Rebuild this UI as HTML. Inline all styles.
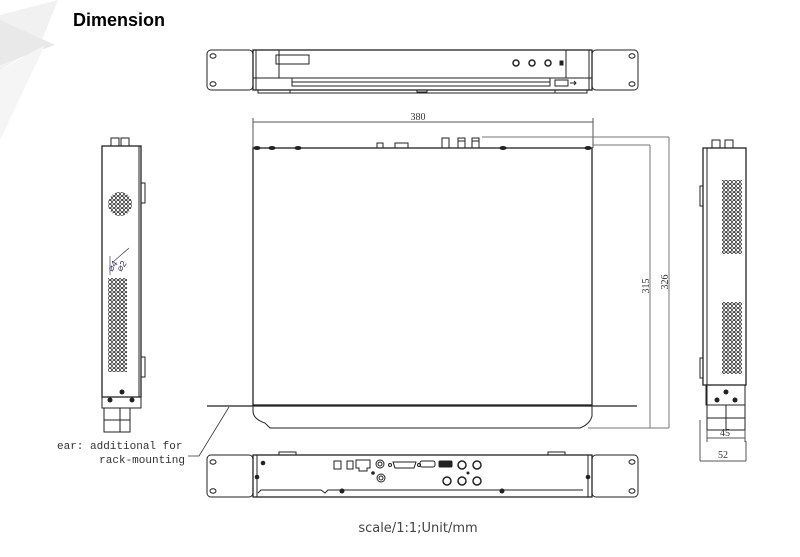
<!DOCTYPE html>
<html><head><meta charset="utf-8"><style>
html,body{margin:0;padding:0;background:#fff;}
svg{display:block;}
</style></head><body>
<svg width="800" height="557" viewBox="0 0 800 557" xmlns="http://www.w3.org/2000/svg">
<defs>
<pattern id="vent" x="0" y="0" width="4" height="4" patternUnits="userSpaceOnUse">
<circle cx="2" cy="2" r="1.6" fill="none" stroke="#222" stroke-width="0.7"/>
</pattern>
</defs>
<!-- logo -->
<polygon points="0,15 58,0 40,45 0,70" fill="#f1f1f1"/>
<polygon points="0,20 55,45 0,65" fill="#e9e9e9"/>
<polygon points="0,70 45,45 0,140" fill="#f5f5f5"/>
<text x="73" y="26" font-family="Liberation Sans, sans-serif" font-weight="bold" font-size="18" fill="#000">Dimension</text>

<g fill="none" stroke="#222" stroke-width="1">
<!-- FRONT VIEW -->
<rect x="207" y="50" width="46" height="40" rx="4"/>
<rect x="592" y="50" width="46" height="40" rx="4"/>
<ellipse cx="213" cy="56" rx="3" ry="2.2"/><ellipse cx="213" cy="84" rx="3" ry="2.2"/>
<ellipse cx="632" cy="56" rx="3" ry="2.2"/><ellipse cx="632" cy="84" rx="3" ry="2.2"/>
<rect x="253" y="50" width="339" height="40" stroke-width="1.3"/>
<line x1="256" y1="50" x2="256" y2="90"/><line x1="589" y1="50" x2="589" y2="90"/>
<line x1="279" y1="50" x2="279" y2="78"/><line x1="566" y1="50" x2="566" y2="78"/>
<line x1="253" y1="78" x2="592" y2="78"/>
<rect x="276" y="55" width="33" height="9"/>
<circle cx="516" cy="63" r="3" stroke-width="1.5"/><circle cx="532" cy="63" r="3" stroke-width="1.5"/><circle cx="548" cy="63" r="3" stroke-width="1.5"/>
<rect x="560" y="61" width="3" height="4" fill="#222"/>
<rect x="292" y="78" width="258" height="8"/><line x1="292" y1="82" x2="550" y2="82"/>
<rect x="555" y="80" width="13" height="6"/>
<path d="M570 83 h6 M574 81 l2 2 l-2 2"/>
<path d="M258 90 v3 h32 v-3 M555 90 v3 h32 v-3 M417 90 v2 h10 v-2 M265 93 h315"/>

<!-- TOP VIEW -->
<line x1="253" y1="122" x2="593" y2="122" stroke="#555"/>
<line x1="253" y1="118" x2="253" y2="148" stroke="#555"/>
<line x1="593" y1="118" x2="593" y2="148" stroke="#555"/>
<line x1="482" y1="137" x2="669" y2="137" stroke="#777"/>
<line x1="593" y1="145" x2="650" y2="145" stroke="#777"/>
<line x1="650" y1="145" x2="650" y2="428" stroke="#777"/>
<line x1="669" y1="137" x2="669" y2="428" stroke="#777"/>
<line x1="588" y1="428" x2="669" y2="428" stroke="#777"/>
<rect x="253" y="148" width="339" height="257" stroke-width="1.3"/>
<line x1="207" y1="406" x2="637" y2="406" stroke-width="1.3"/>
<path d="M253 406 v5 q0 8 12 12 l5 5 h310 q10 -4 12 -12 v-10"/>
<path d="M377 148 v-5 h6 v5 M395 148 v-5 h13 v5 M442 148 v-10 h7 v10 M458 148 v-10 h7 v10 M458 141 h7 M472 148 v-10 h7 v10 M472 141 h7"/>
<g fill="#222"><ellipse cx="257" cy="148" rx="3" ry="1.5"/><ellipse cx="272" cy="148" rx="3" ry="1.5"/><ellipse cx="298" cy="148" rx="3" ry="1.5"/><ellipse cx="503" cy="148" rx="3" ry="1.5"/><ellipse cx="588" cy="148" rx="3" ry="1.5"/></g>

<!-- LEFT SIDE VIEW -->
<rect x="102" y="146" width="39" height="251" stroke-width="1.3"/>
<line x1="139" y1="146" x2="139" y2="397"/>
<path d="M141 183 h4 v20 h-4 M141 357 h4 v20 h-4"/>
<path d="M111 146 v-8 h8 v8 M121 146 v-8 h8 v8"/>
<rect x="102" y="397" width="39" height="11"/>
<path d="M104 408 v24 h26 v-24 M120 408 v24 M104 420 h26"/>
<line x1="113" y1="262" x2="129" y2="248" stroke="#444" stroke-width="0.7"/>
<line x1="110" y1="256" x2="110" y2="275" stroke="#444" stroke-width="0.7"/>
</g>
<circle cx="120" cy="204" r="12" fill="url(#vent)"/>
<rect x="108" y="278" width="19" height="94" fill="url(#vent)"/>
<g fill="#222"><circle cx="122" cy="392" r="2.5"/><circle cx="110" cy="400" r="2.5"/><circle cx="132" cy="400" r="2.5"/></g>
<text x="112" y="272" font-family="Liberation Sans, sans-serif" font-size="9" fill="#336" transform="rotate(-55 112 272)">⌀4</text>
<text x="121" y="272" font-family="Liberation Sans, sans-serif" font-size="9" fill="#336" transform="rotate(-55 121 272)">⌀2</text>

<g fill="none" stroke="#222" stroke-width="1">
<!-- RIGHT SIDE VIEW -->
<rect x="703" y="148" width="43" height="237" stroke-width="1.3"/>
<line x1="707" y1="148" x2="707" y2="405"/>
<path d="M703 186 h-3 v20 h3 M703 358 h-3 v20 h3"/>
<path d="M712 148 v-8 h8 v8 M725 148 v-8 h8 v8"/>
<path d="M706 385 h39 v20 h-39 z M707 405 v25 h38 v-25 M726 405 v25 M707 418 h38"/>
<path d="M707 438 h38 M707 430 v12 M745 430 v12" stroke="#555"/>
<path d="M700 420 v41 M746 441 v20 M700 461 h46" stroke="#555"/>

<!-- BACK VIEW -->
<rect x="207" y="455" width="46" height="42" rx="4"/>
<rect x="592" y="455" width="46" height="42" rx="4"/>
<ellipse cx="213" cy="462" rx="3" ry="2.2"/><ellipse cx="213" cy="491" rx="3" ry="2.2"/>
<ellipse cx="632" cy="462" rx="3" ry="2.2"/><ellipse cx="632" cy="491" rx="3" ry="2.2"/>
<rect x="253" y="455" width="339" height="42" stroke-width="1.3"/>
<line x1="257" y1="455" x2="257" y2="497"/><line x1="588" y1="455" x2="588" y2="497"/>
<path d="M258 493 l3 -3 h60 l4 3 l3 -3 h255" />
<path d="M279 455 v-3 h17 v3 M548 455 v-3 h17 v3"/>
<rect x="334" y="461" width="7" height="8"/><rect x="347" y="461" width="6" height="8"/>
<path d="M356 460 h14 v8 h-3 v3 h-8 v-3 h-3 z"/>
<circle cx="380" cy="464" r="4"/><circle cx="380" cy="464" r="2"/>
<circle cx="381" cy="478" r="4"/><circle cx="381" cy="478" r="2"/>
<path d="M393 462 h23 l-2 6 h-19 z"/><circle cx="390" cy="465" r="1.5"/><circle cx="419" cy="465" r="1.5"/>
<rect x="420" y="461" width="15" height="6" rx="2"/>
<rect x="439" y="461" width="13" height="6" rx="1" fill="#222"/>
<g stroke-width="1.5">
<circle cx="462" cy="465" r="4"/><circle cx="477" cy="465" r="4"/>
<circle cx="447" cy="481" r="4"/><circle cx="462" cy="481" r="4"/><circle cx="477" cy="481" r="4"/>
</g>
</g>
<rect x="722" y="180" width="20" height="74" fill="url(#vent)"/>
<rect x="722" y="302" width="20" height="72" fill="url(#vent)"/>
<g fill="#222">
<circle cx="726" cy="392" r="2.5"/><circle cx="717" cy="400" r="2.5"/><circle cx="735" cy="400" r="2.5"/>
<circle cx="263" cy="463" r="2.3"/><circle cx="257" cy="477" r="2.3"/><circle cx="588" cy="477" r="2.3"/>
<circle cx="342" cy="491" r="2.5"/><circle cx="502" cy="491" r="2.5"/>
<circle cx="373" cy="473" r="1.8"/><circle cx="468" cy="473" r="1.5"/>
</g>

<!-- dims text -->
<g font-family="Liberation Serif, serif" font-size="10" fill="#333">
<text x="418" y="120" text-anchor="middle">380</text>
<text x="0" y="0" text-anchor="middle" transform="translate(649 286) rotate(-90)">315</text>
<text x="0" y="0" text-anchor="middle" transform="translate(668 282) rotate(-90)">326</text>
<text x="725" y="436" text-anchor="middle">45</text>
<text x="723" y="458" text-anchor="middle">52</text>
</g>
<!-- leader -->
<path d="M229 407 L199 456 H188" fill="none" stroke="#333" stroke-width="0.8"/>
<g font-family="Liberation Mono, monospace" font-size="11" fill="#333">
<text x="57" y="449">ear: additional for</text>
<text x="185" y="463" text-anchor="end">rack-mounting</text>
</g>
<text x="418" y="532" text-anchor="middle" font-family="DejaVu Sans, sans-serif" font-size="13" fill="#444">scale/1:1;Unit/mm</text>
</svg>
</body></html>
